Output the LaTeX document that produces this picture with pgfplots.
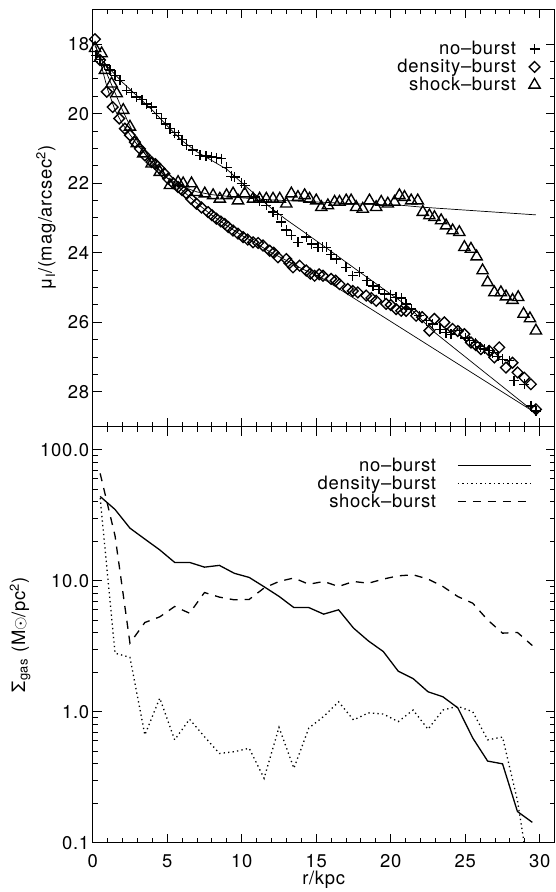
\documentclass[border=0pt]{standalone}
\usepackage{fontspec}
\setmainfont{TeX Gyre Heros}[LetterSpace=4]
\usepackage{pgfplots}
\pgfplotsset{compat=1.18}

\newcommand{\lab}{\fontsize{18.5}{22}\selectfont}

\pgfplotsset{
  idl/.style={
    scale only axis, width=462bp,
    xmin=0, xmax=31, xtick={0,5,...,30}, minor x tick num=4,
    tick align=inside,
    major tick length=9bp, minor tick length=5bp,
    every tick/.append style={black, line width=1bp},
    axis line style={line width=1.2bp},
    tick label style={font=\lab},
    /pgf/number format/assume math mode=true,
    legend style={draw=none, fill=none, font=\lab, inner sep=0pt, row sep=-1bp},
    legend cell align=right, legend plot pos=right,
  },
  mk/.style={only marks, black, line width=1.35bp,
    legend image code/.code={\draw[##1] plot coordinates {(6bp,0bp)};}},
  ln/.style={black, line width=1.3bp,
    legend image code/.code={\draw[##1] (0bp,0bp) -- (73bp,0bp);}},
  fit/.style={black, line width=0.7bp, forget plot},
}

\begin{document}
\begin{tikzpicture}

% upper panel: surface brightness
\begin{axis}[idl, at={(0,416bp)}, height=417.4bp,
  y dir=reverse, ymin=17, ymax=29, ytick={18,20,...,28}, minor y tick num=3,
  xticklabels={},
  ylabel={μ\textsubscript{I}/(mag/arcsec\textsuperscript{2})},
  every axis y label/.style={at={(axis description cs:-0.101,0.5)}, rotate=90, anchor=center, font=\lab},
  legend style={at={(axis description cs:0.969,0.928)}, anchor=north east, column sep=11bp},
]
\addplot[mk, mark=+, mark size=5bp] coordinates {
 (0.22,18.32) (0.5,18.45) (0.8,18.6) (1.17,18.75) (1.5,18.9) (1.83,19.04) (2.28,19.33) (2.6,19.4)
 (2.95,19.52) (3.3,19.6) (3.6,19.72) (3.95,19.81) (4.3,20.0) (4.62,20.14) (4.9,20.3) (5.18,20.43)
 (5.5,20.55) (5.74,20.62) (6.0,20.75) (6.3,20.91) (6.7,21.05) (7.19,21.2) (7.6,21.22) (7.97,21.25)
 (8.3,21.27) (8.64,21.29) (8.98,21.54) (9.3,21.8) (9.53,21.82) (10.0,22.0) (10.2,22.06) (10.8,22.4)
 (11.2,22.5) (11.65,22.64) (12.1,22.83) (12.4,22.9) (12.66,23.12) (13.0,23.35) (13.33,23.5) (13.77,23.7)
 (14.33,23.55) (14.7,23.75) (15.11,23.84) (15.4,23.84) (15.67,23.84) (16.0,24.05) (16.34,24.18) (17.0,24.42)
 (17.45,24.66) (17.9,24.56) (18.4,24.8) (18.8,24.95) (19.2,25.05) (19.58,25.18) (20.0,25.2) (20.36,25.28)
 (20.7,25.3) (21.03,25.47) (21.37,25.62) (21.92,25.81) (22.4,25.95) (22.81,26.05) (23.3,26.2) (23.7,26.3)
 (24.04,26.34) (24.6,26.24) (25.0,26.45) (25.27,26.53) (25.7,26.58) (26.0,26.7) (26.28,26.77) (26.6,26.8)
 (26.83,26.87) (27.2,26.98) (27.5,27.06) (27.95,27.1) (28.28,27.68) (28.96,27.78) (29.4,28.4) (29.75,28.55)
};
\addlegendentry{no--burst}
\addplot[mk, mark=square, mark size=3.8bp, mark options={rotate=45}] coordinates {
 (0.15,17.86) (0.49,18.46) (0.94,19.37) (1.34,19.81) (1.78,20.14) (2.16,20.43) (2.5,20.62) (2.83,20.82)
 (3.17,21.01) (3.5,21.2) (3.95,21.39) (4.2,21.45) (4.5,21.58) (4.8,21.72) (5.06,21.87) (5.4,22.0)
 (5.73,22.11) (6.0,22.2) (6.3,22.3) (6.6,22.45) (6.96,22.59) (7.3,22.7) (7.74,22.83) (8.0,22.92)
 (8.3,23.02) (8.6,23.1) (8.86,23.17) (9.1,23.26) (9.42,23.36) (9.75,23.45) (10.09,23.55) (10.4,23.62)
 (10.76,23.70) (11.1,23.72) (11.43,23.79) (11.88,23.94) (12.15,24.0) (12.43,24.13) (12.99,24.18) (13.2,24.3)
 (13.44,24.42) (13.88,24.37) (14.33,24.51) (14.6,24.6) (14.89,24.66) (15.2,24.62) (15.45,24.66) (16.0,24.75)
 (16.3,24.8) (16.56,24.9) (17.12,25.04) (17.45,25.1) (17.79,25.14) (18.35,25.23) (18.7,25.3) (19.02,25.38)
 (19.69,25.47) (20.0,25.5) (20.36,25.62) (20.7,25.67) (21.03,25.67) (21.7,25.81) (22.1,25.85) (22.59,26.24)
 (22.93,25.9) (23.6,26.0) (24.15,26.19) (24.5,26.25) (24.94,26.34) (25.38,26.58) (25.7,26.65) (26.05,26.77)
 (26.61,26.82) (26.95,27.01) (27.28,26.72) (27.73,27.3) (28.17,27.16) (28.51,27.44) (28.96,27.59) (29.4,27.78)
 (29.74,28.5)
};
\addlegendentry{density--burst}
\addplot[mk, mark=triangle, mark size=6.5bp] coordinates {
 (0.16,18.12) (0.6,18.27) (0.82,18.75) (1.27,19.14) (1.61,19.42) (2.05,19.9) (2.5,20.38) (2.95,20.86)
 (3.39,21.15) (3.95,21.44) (4.5,21.68) (5.18,22.06) (5.73,21.97) (6.07,22.01) (6.63,22.01) (6.97,22.26)
 (7.52,22.3) (8.08,22.35) (8.53,22.45) (8.98,22.35) (9.42,22.3) (9.75,22.5) (10.2,22.3) (10.76,22.45)
 (11.2,22.45) (11.65,22.45) (12.1,22.45) (12.55,22.45) (12.99,22.59) (13.33,22.3) (13.77,22.4) (14.22,22.35)
 (14.55,22.45) (15.0,22.5) (15.34,22.69) (15.78,22.64) (16.23,22.54) (16.56,22.54) (17.01,22.5) (17.34,22.5)
 (17.68,22.69) (18.12,22.74) (18.57,22.5) (19.02,22.69) (19.36,22.54) (19.8,22.59) (20.25,22.54) (20.58,22.35)
 (20.92,22.4) (21.37,22.5) (21.81,22.5) (22.15,22.83) (22.59,22.93) (22.93,22.98) (23.38,23.07) (23.71,23.22)
 (24.15,23.36) (24.6,23.41) (24.94,23.84) (25.38,23.89) (25.76,24.11) (26.16,24.51) (26.5,24.85) (26.95,25.14)
 (27.39,25.14) (27.73,25.26) (28.17,25.36) (28.55,25.28) (28.91,25.76) (29.34,25.89) (29.74,26.24)
};
\addlegendentry{shock--burst}
% fitted profiles
\addplot[fit] coordinates {
 (0.2,18.25) (1,18.65) (2,19.1) (3,19.5) (4,19.9) (5,20.35) (6,20.78) (7,21.1) (8,21.35) (9,21.6)
 (10.3,22.1) (11.9,22.69) (13,23.05) (14,23.35) (16,23.96) (18,24.58) (20,25.19) (21.25,25.57)
 (22.8,26.24) (29.7,28.6)
};
\addplot[fit] coordinates {
 (0.15,17.95) (0.5,18.5) (1,19.3) (1.5,19.9) (2,20.3) (3,20.9) (4,21.4) (5,21.85) (6,22.2) (7,22.58)
 (8,22.92) (9,23.22) (10,23.5) (11,23.74) (12,24.0) (13,24.22) (14,24.45) (15.4,24.73) (29.7,28.6)
};
\addplot[fit] coordinates {
 (0.15,18.05) (0.5,18.35) (1,18.9) (1.5,19.4) (2,19.9) (2.5,20.35) (3,20.8) (3.5,21.15) (4,21.45)
 (5,21.85) (6,22.1) (7,22.25) (8,22.33) (10,22.42) (12,22.48) (14,22.52) (16,22.56) (18,22.6)
 (20.6,22.63) (22.14,22.69) (29.74,22.91)
};
\end{axis}

% lower panel: gas surface density
\begin{axis}[idl, height=416bp,
  ymode=log, ymin=0.1, ymax=150,
  ytick={0.1,1,10,100}, yticklabels={0.1,1.0,10.0,100.0},
  minor ytick={0.2,0.3,0.4,0.5,0.6,0.7,0.8,0.9,2,3,4,5,6,7,8,9,20,30,40,50,60,70,80,90},
  xticklabel style={yshift=-8bp},
  xlabel={r/kpc},
  every axis x label/.style={at={(axis description cs:0.5,0)}, yshift=-37.3bp, anchor=center, font=\lab},
  ylabel={Σ\textsubscript{gas} (M$\odot$/pc\textsuperscript{2})},
  every axis y label/.style={at={(axis description cs:-0.157,0.5)}, rotate=90, anchor=center, font=\lab},
  legend style={at={(axis description cs:0.95,0.93)}, anchor=north east, column sep=19bp},
]
\addplot[ln] coordinates {
 (0.5,44) (1.5,35) (2.5,25.2) (3.5,20.8) (4.5,17.2) (5.5,13.8) (6.5,13.8) (7.5,12.7) (8.5,13.1)
 (9.5,11.4) (10.5,10.6) (11.5,9.0) (12.5,7.6) (13.5,6.24) (14.5,6.24) (15.5,5.56) (16.5,6.0)
 (17.5,4.35) (18.5,3.47) (19.5,2.88) (20.5,2.04) (21.5,1.79) (22.5,1.42) (23.5,1.30) (24.5,1.07)
 (25.5,0.63) (26.5,0.42) (27.5,0.40) (28.5,0.173) (29.5,0.143)
};
\addlegendentry{no--burst}
\addplot[ln, dash pattern=on 1.3bp off 3.2bp] coordinates {
 (0.5,42.8) (1.5,2.8) (2.5,2.6) (3.5,0.665) (4.5,1.27) (5.5,0.61) (6.5,0.877) (7.5,0.645) (8.5,0.48)
 (9.5,0.495) (10.5,0.526) (11.5,0.31) (12.5,0.76) (13.5,0.37) (14.5,0.75) (15.5,0.92) (16.5,1.19)
 (17.5,0.865) (18.5,0.98) (19.5,0.96) (20.5,0.84) (21.5,1.03) (22.5,0.735) (23.5,1.03) (24.5,1.1)
 (25.5,1.0) (26.5,0.61) (27.5,0.64) (28.5,0.21) (29.5,0.04)
};
\addlegendentry{density--burst}
\addplot[ln, dash pattern=on 8bp off 7bp] coordinates {
 (0.5,66) (1.5,22) (2.5,3.34) (3.5,4.8) (4.5,5.3) (5.5,6.36) (6.5,5.65) (7.5,8.13) (8.5,7.5)
 (9.5,7.15) (10.5,7.2) (11.5,8.8) (12.5,9.87) (13.5,10.5) (14.5,9.4) (15.5,9.87) (16.5,9.04)
 (17.5,9.87) (18.5,9.57) (19.5,10.3) (20.5,10.9) (21.5,11.1) (22.5,10.3) (23.5,9.04) (24.5,7.57)
 (25.5,6.74) (26.5,5.02) (27.5,3.98) (28.5,4.03) (29.5,3.2)
};
\addlegendentry{shock--burst}
\end{axis}

\pgfresetboundingbox
\path[use as bounding box] (-92.7bp,-49.3bp) rectangle (463.3bp,842.7bp);
\end{tikzpicture}
\end{document}
